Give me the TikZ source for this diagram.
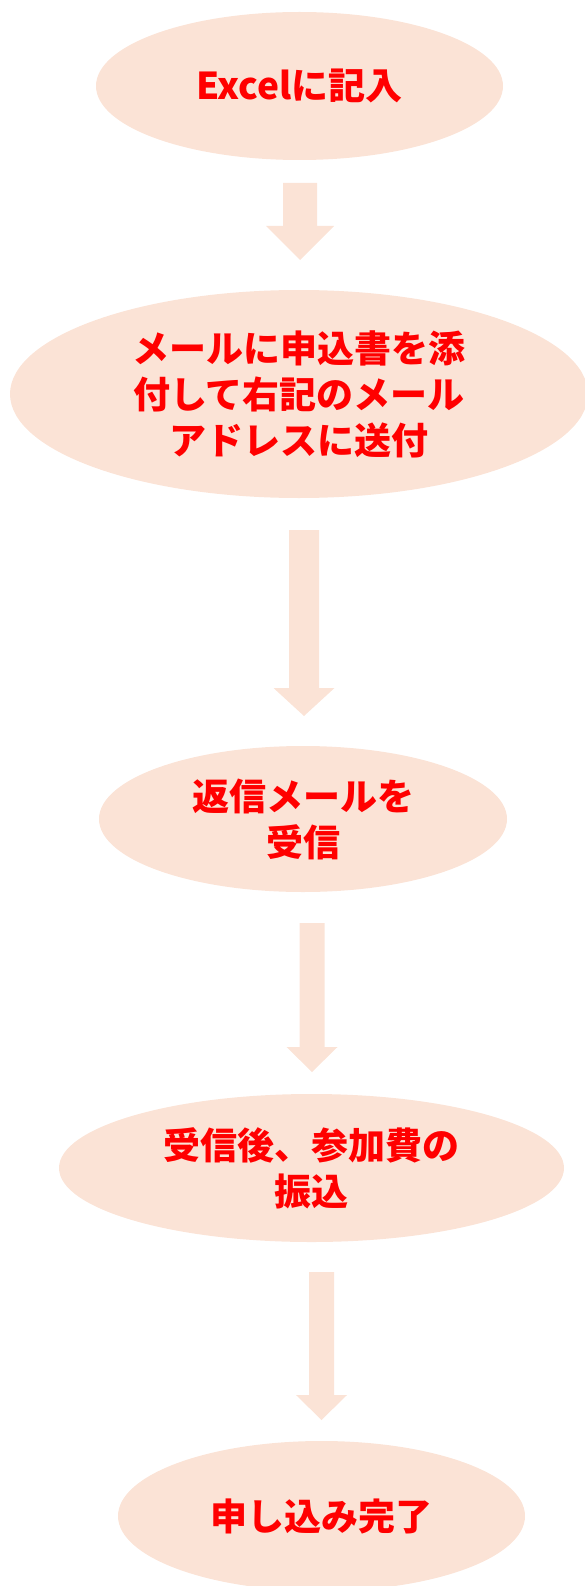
\documentclass[tikz,border=0pt]{standalone}
\usepackage{fontspec}
\setmainfont{Noto Sans CJK JP}
\usetikzlibrary{shapes.geometric,calc}
\definecolor{peach}{HTML}{FBE3D6}
\definecolor{stepred}{HTML}{FF0000}
\tikzset{
  stepoval/.style={ellipse,fill=peach,inner sep=0pt,align=center,
    text=stepred,font=\bfseries\fontsize{37}{46}\selectfont},
  arrowfill/.style={fill=peach}
}
% block arrow: tail, tip, shaft half width, head half width, head length
\newcommand{\blockarrow}[5]{%
  \fill[arrowfill] let \p1=(#1), \p2=(#2) in
    (\x1-#3,\y1) -- (\x1+#3,\y1) -- (\x1+#3,\y2+#5) -- (\x1+#4,\y2+#5)
    -- (\x2,\y2) -- (\x1-#4,\y2+#5) -- (\x1-#3,\y2+#5) -- cycle;}
\begin{document}
\begin{tikzpicture}[x=1pt,y=-1pt]
\useasboundingbox (0,0) rectangle (584,1586);
% steps
\node[stepoval,minimum width=407pt,minimum height=148pt] (S1) at (299.5,86) {Excelに記入};
\node[stepoval,minimum width=578pt,minimum height=208pt] (S2) at (299,394) {メールに申込書を添\\付して右記のメール\\アドレスに送付};
\node[stepoval,minimum width=408pt,minimum height=146pt] (S3) at (303,819) {返信メールを\\受信};
\node[stepoval,minimum width=505pt,minimum height=148pt] (S4) at (311.5,1168) {受信後、参加費の\\振込};
\node[stepoval,minimum width=407pt,minimum height=150pt] (S5) at (321.5,1516) {申し込み完了};
% arrows
\coordinate (A1top) at (300,183);
\coordinate (A1tip) at (300,260);
\coordinate (A2top) at (304,530);
\coordinate (A2tip) at (304,716);
\coordinate (A3top) at (312,923);
\coordinate (A3tip) at (312,1072);
\coordinate (A4top) at (321.5,1272);
\coordinate (A4tip) at (321.5,1420);
\blockarrow{A1top}{A1tip}{17pt}{34pt}{34pt}
\blockarrow{A2top}{A2tip}{15pt}{30.5pt}{28pt}
\blockarrow{A3top}{A3tip}{12.5pt}{25.5pt}{25pt}
\blockarrow{A4top}{A4tip}{12.5pt}{25.5pt}{25pt}
\end{tikzpicture}
\end{document}
